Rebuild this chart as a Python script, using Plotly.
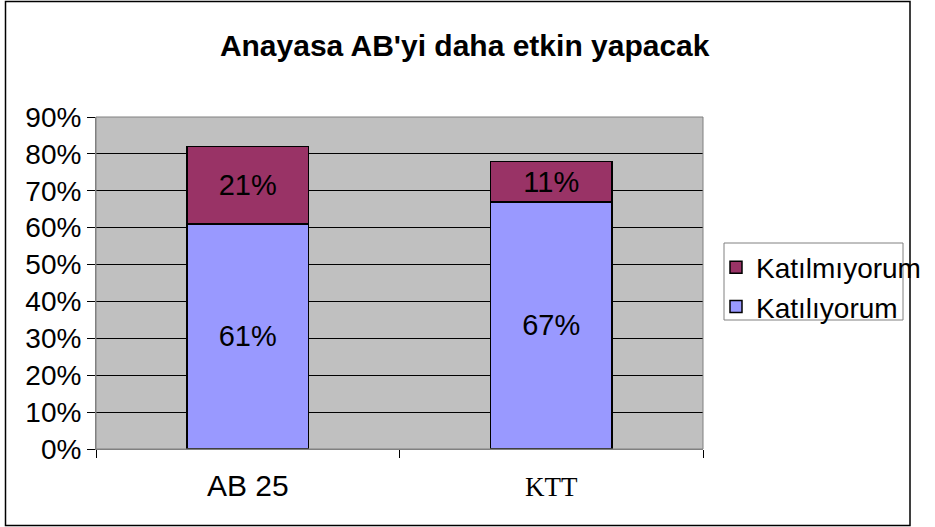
import plotly.graph_objects as go

categories = ["AB 25", "KTT"]
katiliyorum = [61, 67]
katilmiyorum = [21, 11]
tick_labels = ["AB 25",
               "<span style='font-family:Liberation Serif, Times New Roman, serif;font-size:27px'>KTT</span>"]
y_ticks = [0, 10, 20, 30, 40, 50, 60, 70, 80, 90]

W, H = 935, 527
L, R, T, B = 96, 703, 117, 449
SANS = "Liberation Sans, Arial, Helvetica, sans-serif"


def px2x(p):
    return (p - L) / (R - L)


def px2y(p):
    return (B - p) / (B - T)


fig = go.Figure()
fig.add_trace(go.Bar(
    x=categories, y=katiliyorum, name="Katılıyorum",
    marker=dict(color="#9999FF", line=dict(color="black", width=1.5)),
    text=[f"{v}%" for v in katiliyorum], textposition="inside",
    insidetextanchor="middle", textangle=0, constraintext="none",
    textfont=dict(family=SANS, size=29, color="black"),
    hoverinfo="skip",
))
fig.add_trace(go.Bar(
    x=categories, y=katilmiyorum, name="Katılmıyorum",
    marker=dict(color="#993366", line=dict(color="black", width=1.5)),
    text=[f"{v}%" for v in katilmiyorum], textposition="inside",
    insidetextanchor="middle", textangle=0, constraintext="none",
    textfont=dict(family=SANS, size=29, color="black"),
    hoverinfo="skip",
))

fig.update_layout(
    width=W, height=H,
    margin=dict(l=L, r=W - R, t=T, b=H - B, pad=0, autoexpand=False),
    barmode="stack", bargap=0.6,
    paper_bgcolor="white", plot_bgcolor="#C0C0C0",
    title=dict(text="<b>Anayasa AB'yi daha etkin yapacak</b>",
               x=0.497, xanchor="center", y=1 - 45 / H, yanchor="middle",
               font=dict(family=SANS, size=30, color="black")),
    font=dict(family=SANS, color="black"),
    showlegend=True,
    legend=dict(
        x=px2x(716), y=px2y(287), xanchor="left", yanchor="middle",
        traceorder="reversed", borderwidth=0,
        bgcolor="rgba(0,0,0,0)", font=dict(family=SANS, size=28, color="black"),
        itemwidth=30, tracegroupgap=0,
    ),
    xaxis=dict(
        tickvals=categories, ticktext=tick_labels,
        tickson="boundaries", ticks="outside", ticklen=8, tickcolor="black",
        showline=True, linecolor="#808080", linewidth=1,
        tickfont=dict(family=SANS, size=30, color="black"),
        ticklabelstandoff=10,
        showgrid=False,
    ),
    yaxis=dict(
        range=[0, 90], tickvals=y_ticks, ticktext=[f"{v}%" for v in y_ticks],
        ticks="outside", ticklen=8, tickcolor="black",
        showline=True, linecolor="#808080", linewidth=1,
        showgrid=True, gridcolor="black", gridwidth=1,
        tickfont=dict(family=SANS, size=28, color="black"),
        zeroline=False,
    ),
    shapes=[
        dict(type="rect", xref="paper", yref="paper",
             x0=px2x(5.5), x1=px2x(910), y0=px2y(525.5), y1=px2y(1.5),
             line=dict(color="black", width=1.5), fillcolor="rgba(0,0,0,0)", layer="below"),
        dict(type="rect", xref="paper", yref="paper",
             x0=0, x1=1, y0=0, y1=1,
             line=dict(color="#808080", width=1), fillcolor="rgba(0,0,0,0)"),
        dict(type="rect", xref="paper", yref="paper",
             x0=px2x(724), x1=px2x(903), y0=px2y(320), y1=px2y(243),
             line=dict(color="#808080", width=1), fillcolor="rgba(0,0,0,0)", layer="below"),
    ],
)

fig.write_html("out.html", config={"displayModeBar": False},
               post_script="document.body.style.margin='0';")
